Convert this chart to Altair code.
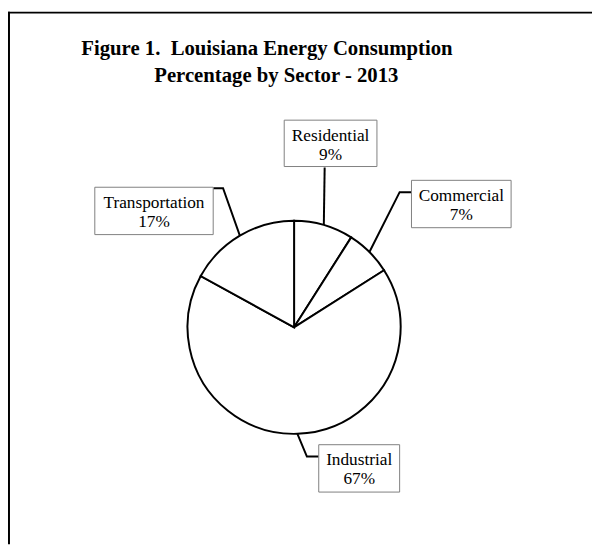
import math
import altair as alt
import pandas as pd

# ---- data ----
sectors = ["Residential", "Commercial", "Industrial", "Transportation"]
shares = [9, 7, 67, 17]
title_lines = ["Figure 1.\u00a0 Louisiana Energy Consumption", "Percentage by Sector - 2013"]

# ---- layout (chart pixels) ----
W, H = 592, 540
CX, CY, R = 290, 320, 108
box_pos = {  # x0, x1, y0, y1
    "Residential": (280, 374, 110, 157),
    "Commercial": (409, 510, 171, 219),
    "Industrial": (315, 397, 439, 487),
    "Transportation": (88, 208, 178, 226),
}
leader_pts = {
    "Residential": [(321, 158)],
    "Commercial": [(409, 183), (397, 183)],
    "Industrial": [(315, 451), (303, 451)],
    "Transportation": [(208, 179), (218, 179)],
}
SERIF = "Liberation Serif"

pie_df = pd.DataFrame({"sector": sectors, "share": shares, "ord": list(range(len(sectors)))})

pie = alt.Chart(pie_df).mark_arc(
    outerRadius=R, fill="white", stroke="black", strokeWidth=2
).encode(
    theta=alt.Theta("share:Q", stack=True),
    order=alt.Order("ord:Q"),
    x=alt.value(CX),
    y=alt.value(CY),
)

# leader lines: from label box to the slice's mid-angle on the rim
total = sum(shares)
rows = []
cum = 0
for s, v in zip(sectors, shares):
    mid = (cum + v / 2) / total * 2 * math.pi
    cum += v
    pts = leader_pts[s] + [(CX + R * math.sin(mid), CY - R * math.cos(mid))]
    for i, (px, py) in enumerate(pts):
        rows.append({"sector": s, "i": i, "px": px, "py": py})
lead_df = pd.DataFrame(rows)

leaders = alt.Chart(lead_df).mark_line(color="black", strokeWidth=2).encode(
    x=alt.X("px:Q", scale=None, axis=None),
    y=alt.Y("py:Q", scale=None, axis=None),
    detail="sector:N",
    order="i:Q",
)

lab_df = pd.DataFrame({
    "sector": sectors,
    "label": [f"{s}\n{v}%" for s, v in zip(sectors, shares)],
    "x0": [box_pos[s][0] for s in sectors],
    "x1": [box_pos[s][1] for s in sectors],
    "y0": [box_pos[s][2] for s in sectors],
    "y1": [box_pos[s][3] for s in sectors],
})
lab_df["tx"] = (lab_df.x0 + lab_df.x1) / 2
lab_df["ty"] = lab_df.y0 + 21

boxes = alt.Chart(lab_df).mark_rect(fill="white", stroke="#7f7f7f", strokeWidth=1).encode(
    x=alt.X("x0:Q", scale=None, axis=None),
    x2="x1:Q",
    y=alt.Y("y0:Q", scale=None, axis=None),
    y2="y1:Q",
)

labels = alt.Chart(lab_df).mark_text(
    font=SERIF, fontSize=17.5, lineBreak="\n", lineHeight=19,
    align="center", baseline="alphabetic", color="black"
).encode(
    x=alt.X("tx:Q", scale=None, axis=None),
    y=alt.Y("ty:Q", scale=None, axis=None),
    text="label:N",
)

one = pd.DataFrame({"a": [0]})
border_left = alt.Chart(one).mark_rule(color="black", strokeWidth=2).encode(
    x=alt.value(1), y=alt.value(0), y2=alt.value(H)
)
border_top = alt.Chart(one).mark_rule(color="black", strokeWidth=2).encode(
    y=alt.value(1), x=alt.value(0), x2=alt.value(W)
)

t1 = alt.Chart(one).mark_text(
    font=SERIF, fontSize=21, fontWeight="bold", align="center", baseline="alphabetic", color="black"
).encode(x=alt.value(262.5), y=alt.value(44), text=alt.value(title_lines[0]))
t2 = alt.Chart(one).mark_text(
    font=SERIF, fontSize=21, fontWeight="bold", align="center", baseline="alphabetic", color="black"
).encode(x=alt.value(272), y=alt.value(71), text=alt.value(title_lines[1]))

chart = alt.layer(
    pie, leaders, boxes, labels, border_left, border_top, t1, t2
).properties(
    width=W, height=H, padding=0, autosize=alt.AutoSizeParams(type="none"),
    background="white",
).configure_view(strokeWidth=0, strokeOpacity=0)

chart.save("out.html", embed_options={"renderer": "svg", "actions": False})
